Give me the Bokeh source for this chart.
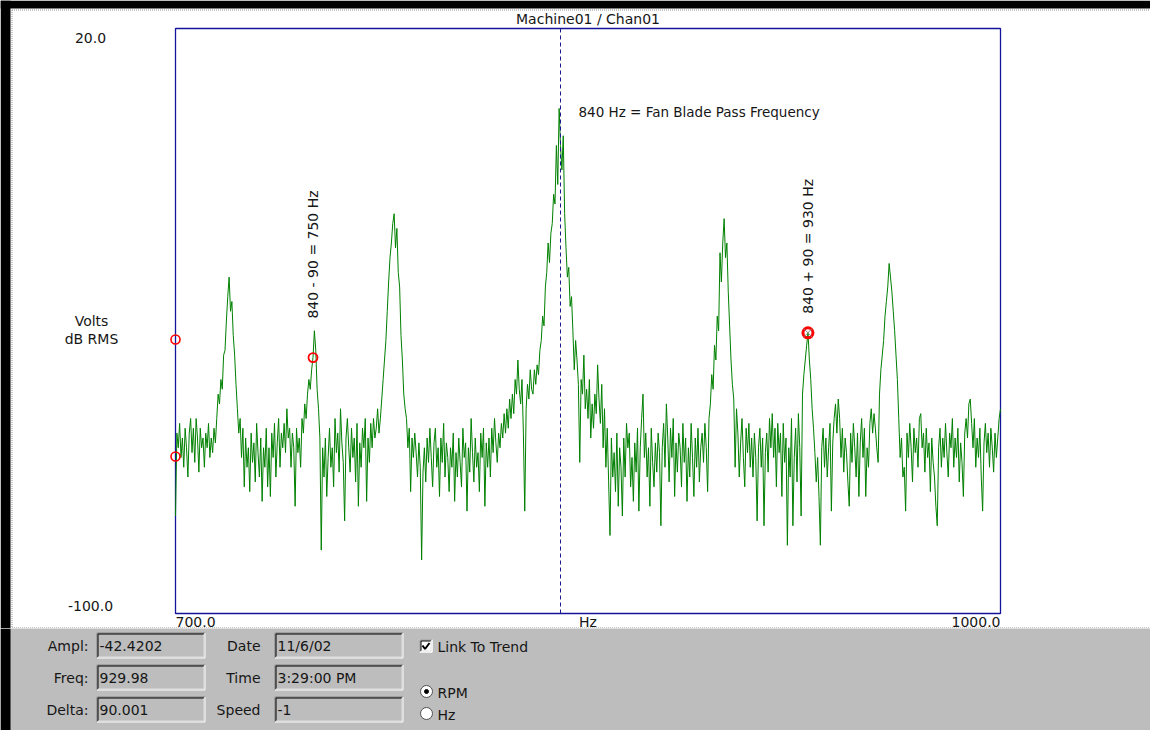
import numpy as np
from bokeh.plotting import figure
from bokeh.models import Range1d, Label
from bokeh.layouts import column
from bokeh.embed import file_html
from bokeh.resources import INLINE
from bokeh.core.properties import value

# ---------------- data ----------------
FREQ_START = 700.0
FREQ_STEP = 0.5
amplitude_db = [
    -80, -63, -66, -61, -68, -64, -70, -62, -66, -72, -63, -60, -67, -62, -69, -60, -64, -71, -62, -66,
    -64, -70, -63, -66, -61, -68, -64, -67, -62, -65, -60, -55, -57, -52, -54, -47, -46, -40, -35, -31,
    -38, -36, -43, -47, -53, -58, -63, -60, -68, -62, -74, -64, -70, -66, -75, -63, -69, -65, -73, -61,
    -67, -72, -64, -77, -66, -70, -62, -74, -66, -76, -63, -68, -61, -72, -65, -60, -70, -63, -66, -61,
    -67, -58, -64, -62, -70, -63, -66, -78, -62, -67, -64, -70, -60, -63, -57, -60, -55, -52, -54, -50,
    -47.5, -42, -46, -54, -58, -64, -87, -66, -72, -64, -76, -68, -62, -70, -66, -74, -60, -67, -63, -71,
    -58, -65, -69, -81, -64, -60, -66, -71, -62, -68, -64, -73, -61, -78, -65, -70, -62, -66, -60, -77,
    -64, -69, -61, -66, -60, -64, -62, -58, -63, -60, -56, -52, -48, -44, -38, -32, -27, -24, -20, -18,
    -25, -21, -30, -33, -43, -48, -55, -58, -60, -66, -62, -75, -64, -68, -63, -67, -72, -65, -70, -89,
    -71, -66, -73, -64, -69, -62, -68, -74, -65, -62, -70, -66, -76, -64, -69, -61, -72, -65, -68, -75,
    -66, -70, -63, -77, -67, -72, -64, -69, -74, -62, -68, -65, -79, -66, -71, -60, -67, -73, -64, -70,
    -67, -75, -63, -68, -62, -78, -65, -70, -64, -72, -62, -67, -60, -65, -69, -63, -66, -61, -64, -59,
    -63, -58, -62, -56, -60, -55, -59, -52, -55, -48, -54, -57, -52, -63, -79, -58, -53, -56, -50, -54,
    -55, -50, -53, -49, -51, -46, -44, -39, -41, -33, -30, -24, -28, -22, -20, -14, -16, -4, -12, 3.6,
    -4, -9, -2, -18, -25, -31, -29, -37, -35, -42, -50, -44, -48, -53, -69, -52, -55, -47, -58, -54,
    -60, -52, -64, -57, -62, -55, -59, -49, -56, -61, -53, -66, -58, -70, -62, -73, -84, -64, -72, -67,
    -75, -63, -78, -66, -70, -80, -64, -72, -61, -66, -63, -74, -68, -77, -65, -71, -62, -79, -66, -60,
    -55, -68, -63, -72, -66, -78, -62, -69, -74, -65, -71, -63, -67, -82, -66, -61, -70, -57, -64, -73,
    -62, -68, -60, -76, -65, -71, -63, -66, -74, -61, -69, -64, -77, -66, -72, -61, -68, -76, -64, -70,
    -62, -73, -66, -63, -69, -61, -66, -75, -60, -57, -51, -54, -45, -48, -39, -42, -26, -32, -24, -19,
    -27, -24, -34, -41, -48, -53, -56, -70, -58, -63, -72, -65, -60, -68, -74, -62, -67, -61, -70, -64,
    -72, -63, -68, -81, -66, -62, -70, -64, -82, -67, -63, -71, -60, -66, -59, -68, -62, -74, -61, -67,
    -63, -76, -61, -69, -64, -86, -66, -72, -60, -82, -68, -62, -73, -59, -66, -80, -55, -51, -48, -45,
    -42.42, -48, -52, -58, -62, -67, -73, -68, -76, -86, -66, -62, -70, -64, -72, -66, -61, -79, -65, -60,
    -57, -63, -56, -60, -68, -62, -71, -64, -67, -73, -78, -63, -69, -61, -66, -72, -63, -76, -65, -60,
    -68, -62, -76, -66, -70, -61, -58, -63, -59, -62, -66, -69, -55, -50, -47, -44, -39, -36, -33, -28.2,
    -31, -34, -38, -42, -47, -52, -60, -68, -64, -72, -70, -79, -63, -68, -61, -66, -73, -62, -67, -64,
    -70, -60, -59, -66, -63, -71, -62, -68, -65, -75, -64, -69, -72, -78, -82, -66, -62, -70, -64, -68,
    -61, -67, -72, -63, -66, -60, -70, -64, -68, -62, -73, -65, -69, -76, -63, -60, -64, -57, -56, -61,
    -66, -60, -70, -64, -68, -62, -72, -79, -65, -61, -67, -63, -70, -62, -66, -71, -63, -68, -64, -60,
    -58,
]
freq_hz = FREQ_START + FREQ_STEP * np.arange(len(amplitude_db))

x_limits = [700.0, 1000.0]
y_limits = [-100.0, 20.0]
x_tick_labels = ["700.0", "1000.0"]
y_tick_labels = ["-100.0", "20.0"]
title_text = "Machine01 / Chan01"
x_unit = "Hz"
y_unit_lines = ["Volts", "dB RMS"]

bpf_freq = 840.0
bpf_peak_db = 3.6
bpf_text = "840 Hz = Fan Blade Pass Frequency"
cursor_freqs = [750.0, 929.98]
cursor_ampl = [-47.5, -42.42]
cursor_texts = ["840 - 90 = 750 Hz", "840 + 90 = 930 Hz"]
axis_marker_levels = [-43.8, -67.8]

field_labels_1 = ["Ampl:", "Freq:", "Delta:"]
field_values_1 = ["-42.4202", "929.98", "90.001"]
field_labels_2 = ["Date", "Time", "Speed"]
field_values_2 = ["11/6/02", "3:29:00 PM", "-1"]
check_text = "Link To Trend"
radio_texts = ["RPM", "Hz"]

# ---------------- layout / style ----------------
FONT = "DejaVu Sans"
FS = "14px"
TXT = "#161616"
PANEL = "#bdbdbd"
FRAME = "#14149a"

W, HA, HB = 1150, 628, 102          # canvas sizes (chart area, control panel)
FL, FR, FT, FB = 175, 1000, 28, 613  # plot-box edges in pixels

sx = (FR - FL) / (x_limits[1] - x_limits[0])
sy = (FB - FT) / (y_limits[1] - y_limits[0])
xr = Range1d(x_limits[0] - FL / sx, x_limits[1] + (W - FR) / sx)
yr = Range1d(y_limits[0] - (HA - FB) / sy, y_limits[1] + FT / sy)


def px_x(v):
    return xr.start + v / sx


def px_y(v):
    return yr.end - v / sy


p = figure(width=W, height=HA, x_range=xr, y_range=yr,
           x_axis_type=None, y_axis_type=None,
           toolbar_location=None, output_backend="svg", min_border=0,
           background_fill_color="white", border_fill_color="white",
           outline_line_color=None)
p.grid.visible = False

# window chrome: black edge + dotted inner border
p.quad(left=[px_x(0), px_x(0)], right=[px_x(10), px_x(W)],
       top=[px_y(0), px_y(0)], bottom=[px_y(HA), px_y(8)],
       fill_color="black", line_color=None)
p.multi_line(xs=[[px_x(11.5), px_x(W)], [px_x(11.5), px_x(11.5)], [px_x(11.5), px_x(W)]],
             ys=[[px_y(9.5), px_y(9.5)], [px_y(9.5), px_y(HA)], [px_y(627.5), px_y(627.5)]],
             line_color="#8c8c8c", line_dash="1 1", line_width=1)

# plot box
p.quad(left=[x_limits[0]], right=[x_limits[1]], bottom=[y_limits[0]], top=[y_limits[1]],
       fill_color=None, line_color=FRAME, line_width=1.3)

# spectrum
p.line(freq_hz, amplitude_db, line_color="#008000", line_width=1)

# blade-pass frequency dashed marker
p.segment(x0=[bpf_freq], y0=[y_limits[0]], x1=[bpf_freq], y1=[y_limits[1]],
          line_color="#1a1a8c", line_dash="4 3", line_width=1)

# cursors
p.scatter([x_limits[0]] * len(axis_marker_levels), axis_marker_levels,
          marker="circle", size=9, fill_color=None, line_color="red", line_width=1.6)
p.scatter(cursor_freqs[:1], cursor_ampl[:1], marker="circle", size=9,
          fill_color=None, line_color="red", line_width=1.8)
p.scatter(cursor_freqs[1:], cursor_ampl[1:], marker="circle", size=10,
          fill_color=None, line_color="red", line_width=3)
p.scatter(cursor_freqs[1:], cursor_ampl[1:], marker="x", size=12,
          line_color="#888888", line_width=1)


def lab(plot, **kw):
    base = dict(text_font=FONT, text_font_size=FS, text_color=TXT,
                text_baseline="middle", text_align="center")
    base.update(kw)
    plot.add_layout(Label(**base))


xmid = (x_limits[0] + x_limits[1]) / 2
ymid = (y_limits[0] + y_limits[1]) / 2
lab(p, x=xmid, y=y_limits[1], y_offset=10, text=title_text)
lab(p, x=x_limits[0], y=y_limits[1], x_offset=-85, y_offset=-9, text=y_tick_labels[1])
lab(p, x=x_limits[0], y=y_limits[0], x_offset=-85, y_offset=8, text=y_tick_labels[0])
lab(p, x=x_limits[0], y=ymid, x_offset=-84, y_offset=0, text=y_unit_lines[0])
lab(p, x=x_limits[0], y=ymid, x_offset=-84, y_offset=-18, text=y_unit_lines[1])
lab(p, x=x_limits[0], y=y_limits[0], y_offset=-8, text_align="left", text=x_tick_labels[0])
lab(p, x=x_limits[1], y=y_limits[0], y_offset=-8, text_align="right", text=x_tick_labels[1])
lab(p, x=xmid, y=y_limits[0], y_offset=-8, text=x_unit)
lab(p, x=bpf_freq, y=bpf_peak_db, x_offset=18, y_offset=-4, text_align="left",
    text_font_size="13.5px", text=bpf_text)
lab(p, x=cursor_freqs[0], y=cursor_ampl[0], y_offset=39, angle=np.pi / 2,
    text_align="left", text=cursor_texts[0])
lab(p, x=cursor_freqs[1], y=cursor_ampl[1], y_offset=19, angle=np.pi / 2,
    text_align="left", text=cursor_texts[1])

# ---------------- bottom control panel ----------------
q = figure(width=W, height=HB,
           x_range=Range1d(0, W), y_range=Range1d(HB, 0),
           x_axis_type=None, y_axis_type=None,
           toolbar_location=None, output_backend="svg", min_border=0,
           background_fill_color=PANEL, border_fill_color=PANEL,
           outline_line_color=None)
q.grid.visible = False
q.quad(left=[0], right=[10], top=[0], bottom=[HB], fill_color="black", line_color=None)

row_tops = [4, 36, 68]
box_h = 26
col_left = [96, 274]
col_w = [109, 129]
label_right = [88, 260]


def sunken(l, t, w, h, fill):
    r, b = l + w, t + h
    q.quad(left=[l], right=[r], top=[t], bottom=[b], fill_color=fill, line_color=None)
    o = 0.5
    q.segment(x0=[l + o, l + o], y0=[t + o, t + o], x1=[r - o, l + o], y1=[t + o, b - o],
              line_color="#808080", line_width=1)
    q.segment(x0=[l + 1 + o, l + 1 + o], y0=[t + 1 + o, t + 1 + o],
              x1=[r - 1 - o, l + 1 + o], y1=[t + 1 + o, b - 1 - o],
              line_color="#000000", line_width=1)
    q.segment(x0=[l + o, r - o], y0=[b - o, t + o], x1=[r - o, r - o], y1=[b - o, b - o],
              line_color="#ffffff", line_width=1)
    q.segment(x0=[l + 1 + o, r - 1 - o], y0=[b - 1 - o, t + 1 + o],
              x1=[r - 1 - o, r - 1 - o], y1=[b - 1 - o, b - 1 - o],
              line_color="#dfdfdf", line_width=1)


for c, (labels, values) in enumerate([(field_labels_1, field_values_1),
                                      (field_labels_2, field_values_2)]):
    for i in range(3):
        sunken(col_left[c], row_tops[i], col_w[c], box_h, PANEL)
    ys = [t + box_h / 2 + 0.5 for t in row_tops]
    q.text(x=[label_right[c]] * 3, y=ys, text=labels, text_font=value(FONT),
           text_font_size=FS, text_color=TXT, text_align="right",
           text_baseline="middle")
    q.text(x=[col_left[c] + 3] * 3, y=ys, text=values, text_font=value(FONT),
           text_font_size=FS, text_color=TXT, text_align="left",
           text_baseline="middle")

# checkbox
cb_l, cb_t, cb_s = 419, 11, 13
sunken(cb_l, cb_t, cb_s, cb_s, "white")
q.line(x=[cb_l + 3, cb_l + 5.5, cb_l + 10], y=[cb_t + 6, cb_t + 9.5, cb_t + 3.5],
       line_color="black", line_width=2)
q.text(x=[437], y=[cb_t + cb_s / 2 + 0.5], text=[check_text], text_font=value(FONT),
       text_font_size=FS, text_color=TXT, text_align="left", text_baseline="middle")

# radio buttons
radio_y = [63, 85]
q.scatter(x=[426, 426], y=radio_y, marker="circle", size=12,
          fill_color="white", line_color="#505050", line_width=1)
q.scatter(x=[426], y=radio_y[:1], marker="circle", size=4,
          fill_color="black", line_color="black")
q.text(x=[437, 437], y=[v + 1 for v in radio_y], text=radio_texts, text_font=value(FONT),
       text_font_size=FS, text_color=TXT, text_align="left", text_baseline="middle")

layout = column(p, q, spacing=0)
open("out.html", "w").write(file_html(layout, INLINE))
